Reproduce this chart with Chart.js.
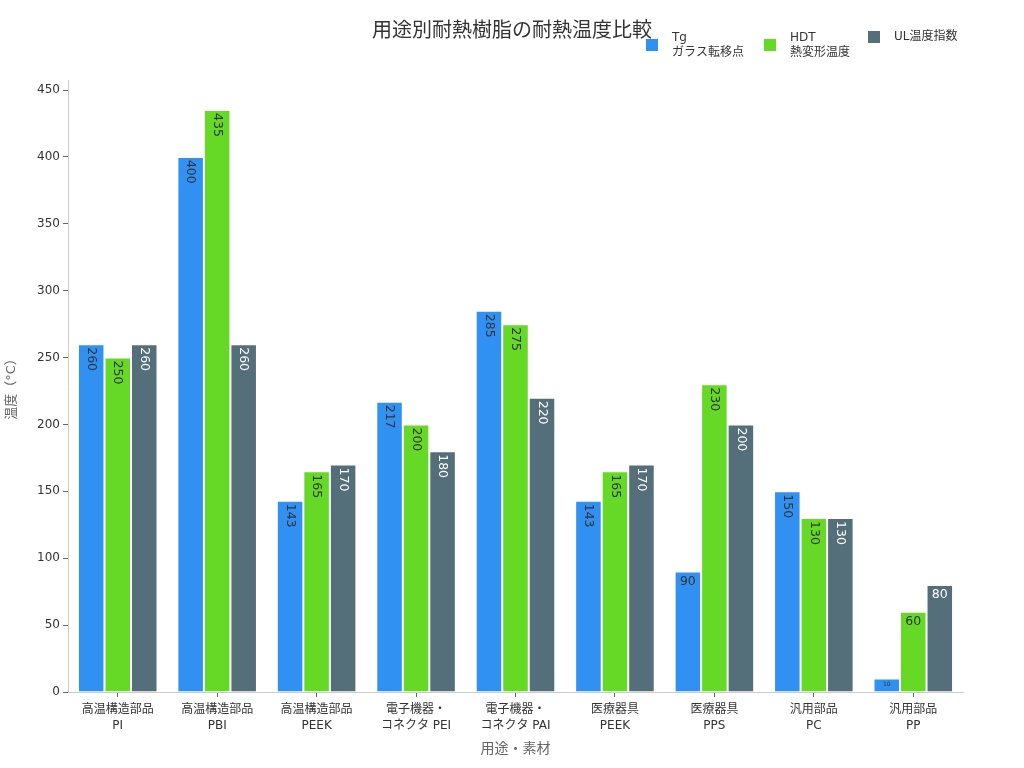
<!DOCTYPE html>
<html>
<head>
<meta charset="utf-8">
<script src="https://cdn.jsdelivr.net/npm/chart.js@4"></script>
<style>
  html, body { margin: 0; padding: 0; background: #fff; }
  #wrap { width: 1024px; height: 768px; }
</style>
</head>
<body>
<div id="wrap"><canvas id="heatChart"></canvas></div>
<script>
// data
const categories = [
  ['高温構造部品', 'PI'], ['高温構造部品', 'PBI'], ['高温構造部品', 'PEEK'],
  ['電子機器・', 'コネクタ PEI'], ['電子機器・', 'コネクタ PAI'],
  ['医療器具', 'PEEK'], ['医療器具', 'PPS'], ['汎用部品', 'PC'], ['汎用部品', 'PP']
];
const tgValues = [260, 400, 143, 217, 285, 143, 90, 150, 10];
const hdtValues = [250, 435, 165, 200, 275, 165, 230, 130, 60];
const ulValues = [260, 260, 170, 180, 220, 170, 200, 130, 80];
const seriesNames = [['Tg', 'ガラス転移点'], ['HDT', '熱変形温度'], ['UL温度指数']];
const yTicks = [0, 50, 100, 150, 200, 250, 300, 350, 400, 450];

const FONT = "'DejaVu Sans', 'Noto Sans CJK JP', sans-serif";
const colors = ['#3091F2', '#66D926', '#546E7A'];
const labelColors = ['#333333', '#333333', '#ffffff'];

// value labels inside the bars
const barLabels = {
  id: 'barLabels',
  afterDatasetsDraw(chart) {
    const ctx = chart.ctx;
    chart.data.datasets.forEach((ds, di) => {
      chart.getDatasetMeta(di).data.forEach((bar, i) => {
        const v = ds.data[i];
        ctx.save();
        ctx.fillStyle = labelColors[di];
        if (v >= 100) {
          ctx.font = '12.5px ' + FONT;
          ctx.translate(bar.x, bar.y + 3);
          ctx.rotate(Math.PI / 2);
          ctx.textAlign = 'left';
          ctx.textBaseline = 'middle';
          ctx.fillText(String(v), 0, 0);
        } else if (v >= 30) {
          ctx.font = '12.5px ' + FONT;
          ctx.textAlign = 'center';
          ctx.textBaseline = 'middle';
          ctx.fillText(String(v), bar.x, bar.y + 10);
        } else {
          ctx.font = '6px ' + FONT;
          ctx.textAlign = 'center';
          ctx.textBaseline = 'middle';
          ctx.fillText(String(v), bar.x, bar.y + 6);
        }
        ctx.restore();
      });
    });
  }
};

// title and legend drawn on top
const header = {
  id: 'header',
  afterDraw(chart) {
    const ctx = chart.ctx;
    ctx.save();
    ctx.fillStyle = '#333';
    ctx.font = '20px ' + FONT;
    ctx.textAlign = 'center';
    ctx.textBaseline = 'middle';
    ctx.fillText('用途別耐熱樹脂の耐熱温度比較', 512, 32);

    const boxX = [646, 764, 868];
    ctx.font = '12px ' + FONT;
    ctx.textAlign = 'left';
    seriesNames.forEach((lines, i) => {
      const cy = lines.length > 1 ? 45 : 37;
      ctx.fillStyle = colors[i];
      ctx.fillRect(boxX[i], cy - 6, 12, 12);
      ctx.fillStyle = '#333';
      lines.forEach((t, k) => {
        const y = lines.length > 1 ? 38 + k * 15 : 37;
        ctx.fillText(t, boxX[i] + 26, y);
      });
    });
    ctx.restore();
  }
};

const ctx = document.getElementById('heatChart').getContext('2d');
new Chart(ctx, {
  type: 'bar',
  data: {
    labels: categories,
    datasets: [
      { label: 'Tg', data: tgValues, backgroundColor: colors[0] },
      { label: 'HDT', data: hdtValues, backgroundColor: colors[1] },
      { label: 'UL温度指数', data: ulValues, backgroundColor: colors[2] }
    ].map(d => Object.assign(d, {
      borderColor: 'rgba(255,255,255,0.45)',
      borderWidth: 1,
      categoryPercentage: 0.8,
      barPercentage: 1.0
    }))
  },
  options: {
    responsive: true,
    maintainAspectRatio: false,
    animation: false,
    layout: { padding: { left: 0, top: 80, right: 61, bottom: 0 } },
    plugins: {
      legend: { display: false },
      title: { display: false },
      tooltip: { enabled: false }
    },
    scales: {
      x: {
        grid: { display: true, offset: false, drawOnChartArea: false, drawTicks: true, tickLength: 5, color: '#666' },
        border: { display: true, color: '#ccc' },
        ticks: { color: '#333', font: { family: FONT, size: 12, lineHeight: 1.35 }, padding: 5, maxRotation: 0, autoSkip: false },
        title: { display: true, text: '用途・素材', color: '#666', font: { family: FONT, size: 14 }, padding: { top: 4, bottom: 10 } },
        afterFit(scale) { scale.height = 76; }
      },
      y: {
        min: 0,
        max: 457.5,
        grid: { display: true, drawOnChartArea: false, drawTicks: true, tickLength: 5, color: '#666' },
        border: { display: true, color: '#ccc' },
        afterBuildTicks(scale) { scale.ticks = yTicks.map(v => ({ value: v })); },
        ticks: { color: '#333', font: { family: FONT, size: 12 }, padding: 3 },
        title: { display: true, text: '温度（°C）', color: '#666', font: { family: FONT, size: 13 }, padding: { top: 4, bottom: 4 } },
        afterFit(scale) { scale.width = 68; }
      }
    }
  },
  plugins: [barLabels, header]
});
</script>
</body>
</html>
